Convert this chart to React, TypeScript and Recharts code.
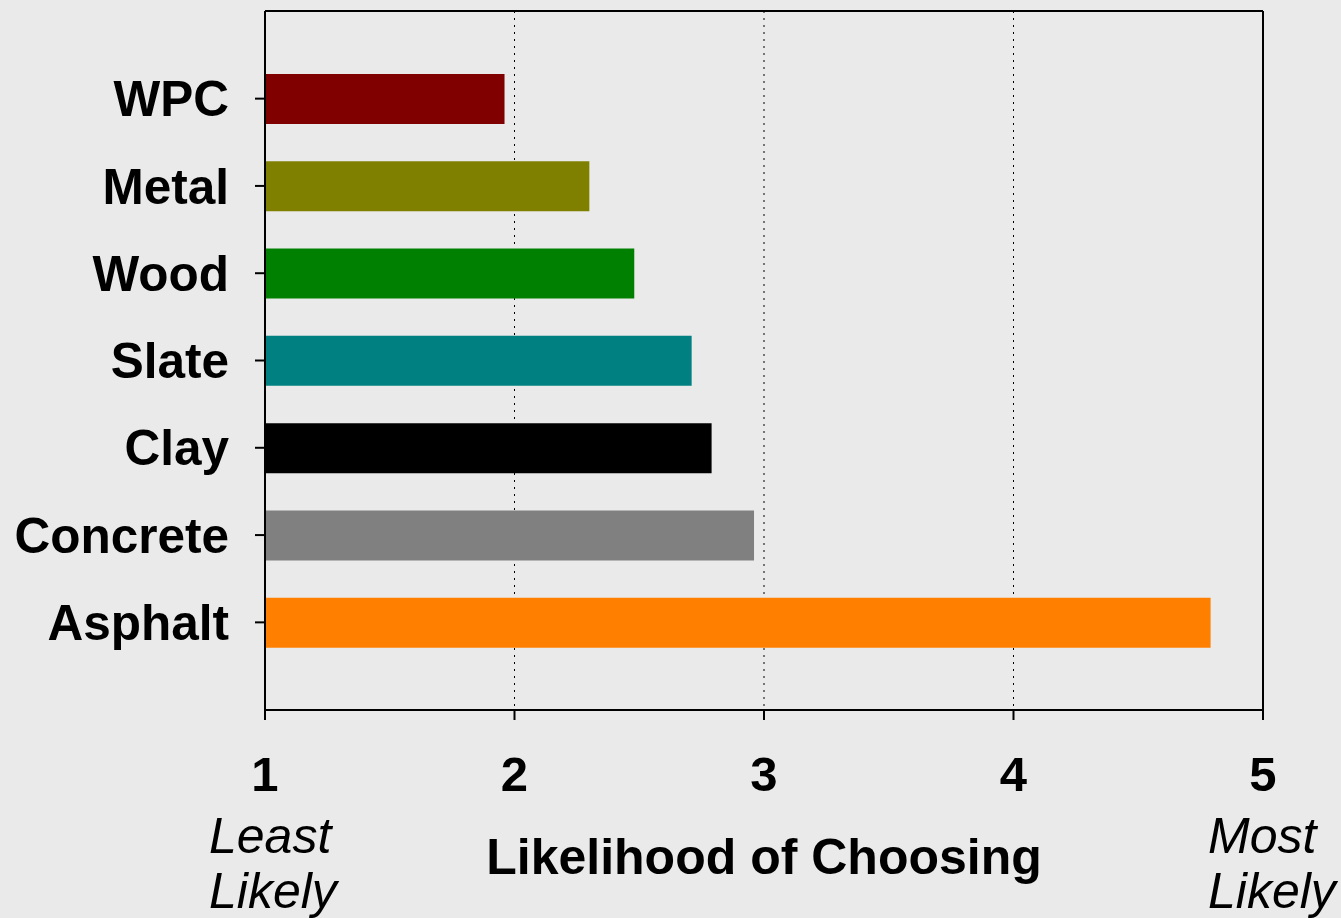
import React from "react";
import { BarChart, Bar, XAxis, YAxis, CartesianGrid, Cell, Label } from "recharts";

const categories = ["WPC", "Metal", "Wood", "Slate", "Clay", "Concrete", "Asphalt"];
const values = [1.96, 2.3, 2.48, 2.71, 2.79, 2.96, 4.79];
const colors = ["#800000", "#808000", "#008000", "#008080", "#000000", "#808080", "#FF8000"];
const xTicks = [1, 2, 3, 4, 5];
const axisTitle = "Likelihood of Choosing";
const leftNote = ["Least", "Likely"];
const rightNote = ["Most", "Likely"];

const data = categories.map((name, i) => ({ name, value: values[i] }));

const FONT = "'Liberation Sans', Arial, Helvetica, sans-serif";

const AxisLabels = (props: any) => {
  const vb = props.viewBox || {};
  const x0 = vb.x;
  const w = vb.width;
  const y0 = vb.y;
  return (
    <g fontFamily={FONT} fill="#000">
      <text x={x0 + w / 2} y={y0 + 164} textAnchor="middle" fontSize={50} fontWeight="bold">
        {axisTitle}
      </text>
      <text x={x0 - 56} y={y0 + 143} fontSize={50} fontStyle="italic">{leftNote[0]}</text>
      <text x={x0 - 56} y={y0 + 198} fontSize={50} fontStyle="italic">{leftNote[1]}</text>
      <text x={x0 + w - 55} y={y0 + 143} fontSize={50} fontStyle="italic">{rightNote[0]}</text>
      <text x={x0 + w - 55} y={y0 + 198} fontSize={50} fontStyle="italic">{rightNote[1]}</text>
    </g>
  );
};

const LINE = { stroke: "#000", strokeWidth: 2 };

export default function App() {
  return (
    <div style={{ position: "absolute", left: 0, top: 0, width: 1341, height: 918, background: "#EAEAEA" }}>
      <BarChart
        width={1341}
        height={918}
        data={data}
        layout="vertical"
        margin={{ top: 10, right: 77, left: 0, bottom: 0 }}
        barSize={50}
      >
        <CartesianGrid horizontal={false} stroke="#000" strokeDasharray="2 5" />
        <XAxis
          type="number"
          dataKey="value"
          domain={[1, 5]}
          ticks={xTicks}
          allowDataOverflow
          height={208}
          tickSize={10}
          tickMargin={36}
          axisLine={LINE}
          tickLine={LINE}
          tick={{ fontSize: 49, fontWeight: "bold", fill: "#000", fontFamily: FONT }}
        >
          <Label content={AxisLabels} position="insideBottom" />
        </XAxis>
        <XAxis
          xAxisId="top"
          orientation="top"
          type="number"
          dataKey="value"
          domain={[1, 5]}
          ticks={xTicks}
          allowDataOverflow
          height={1}
          tick={false}
          tickLine={false}
          axisLine={LINE}
        />
        <YAxis
          type="category"
          dataKey="name"
          width={265}
          padding={{ top: 44, bottom: 44 }}
          tickSize={10}
          tickMargin={26}
          interval={0}
          axisLine={LINE}
          tickLine={LINE}
          tick={{ fontSize: 49.5, fontWeight: "bold", fill: "#000", fontFamily: FONT }}
        />
        <YAxis
          yAxisId="right"
          orientation="right"
          type="category"
          dataKey="name"
          width={1}
          tick={false}
          tickLine={false}
          axisLine={LINE}
        />
        <Bar dataKey="value" isAnimationActive={false}>
          {data.map((d, i) => (
            <Cell key={d.name} fill={colors[i]} />
          ))}
        </Bar>
      </BarChart>
    </div>
  );
}
